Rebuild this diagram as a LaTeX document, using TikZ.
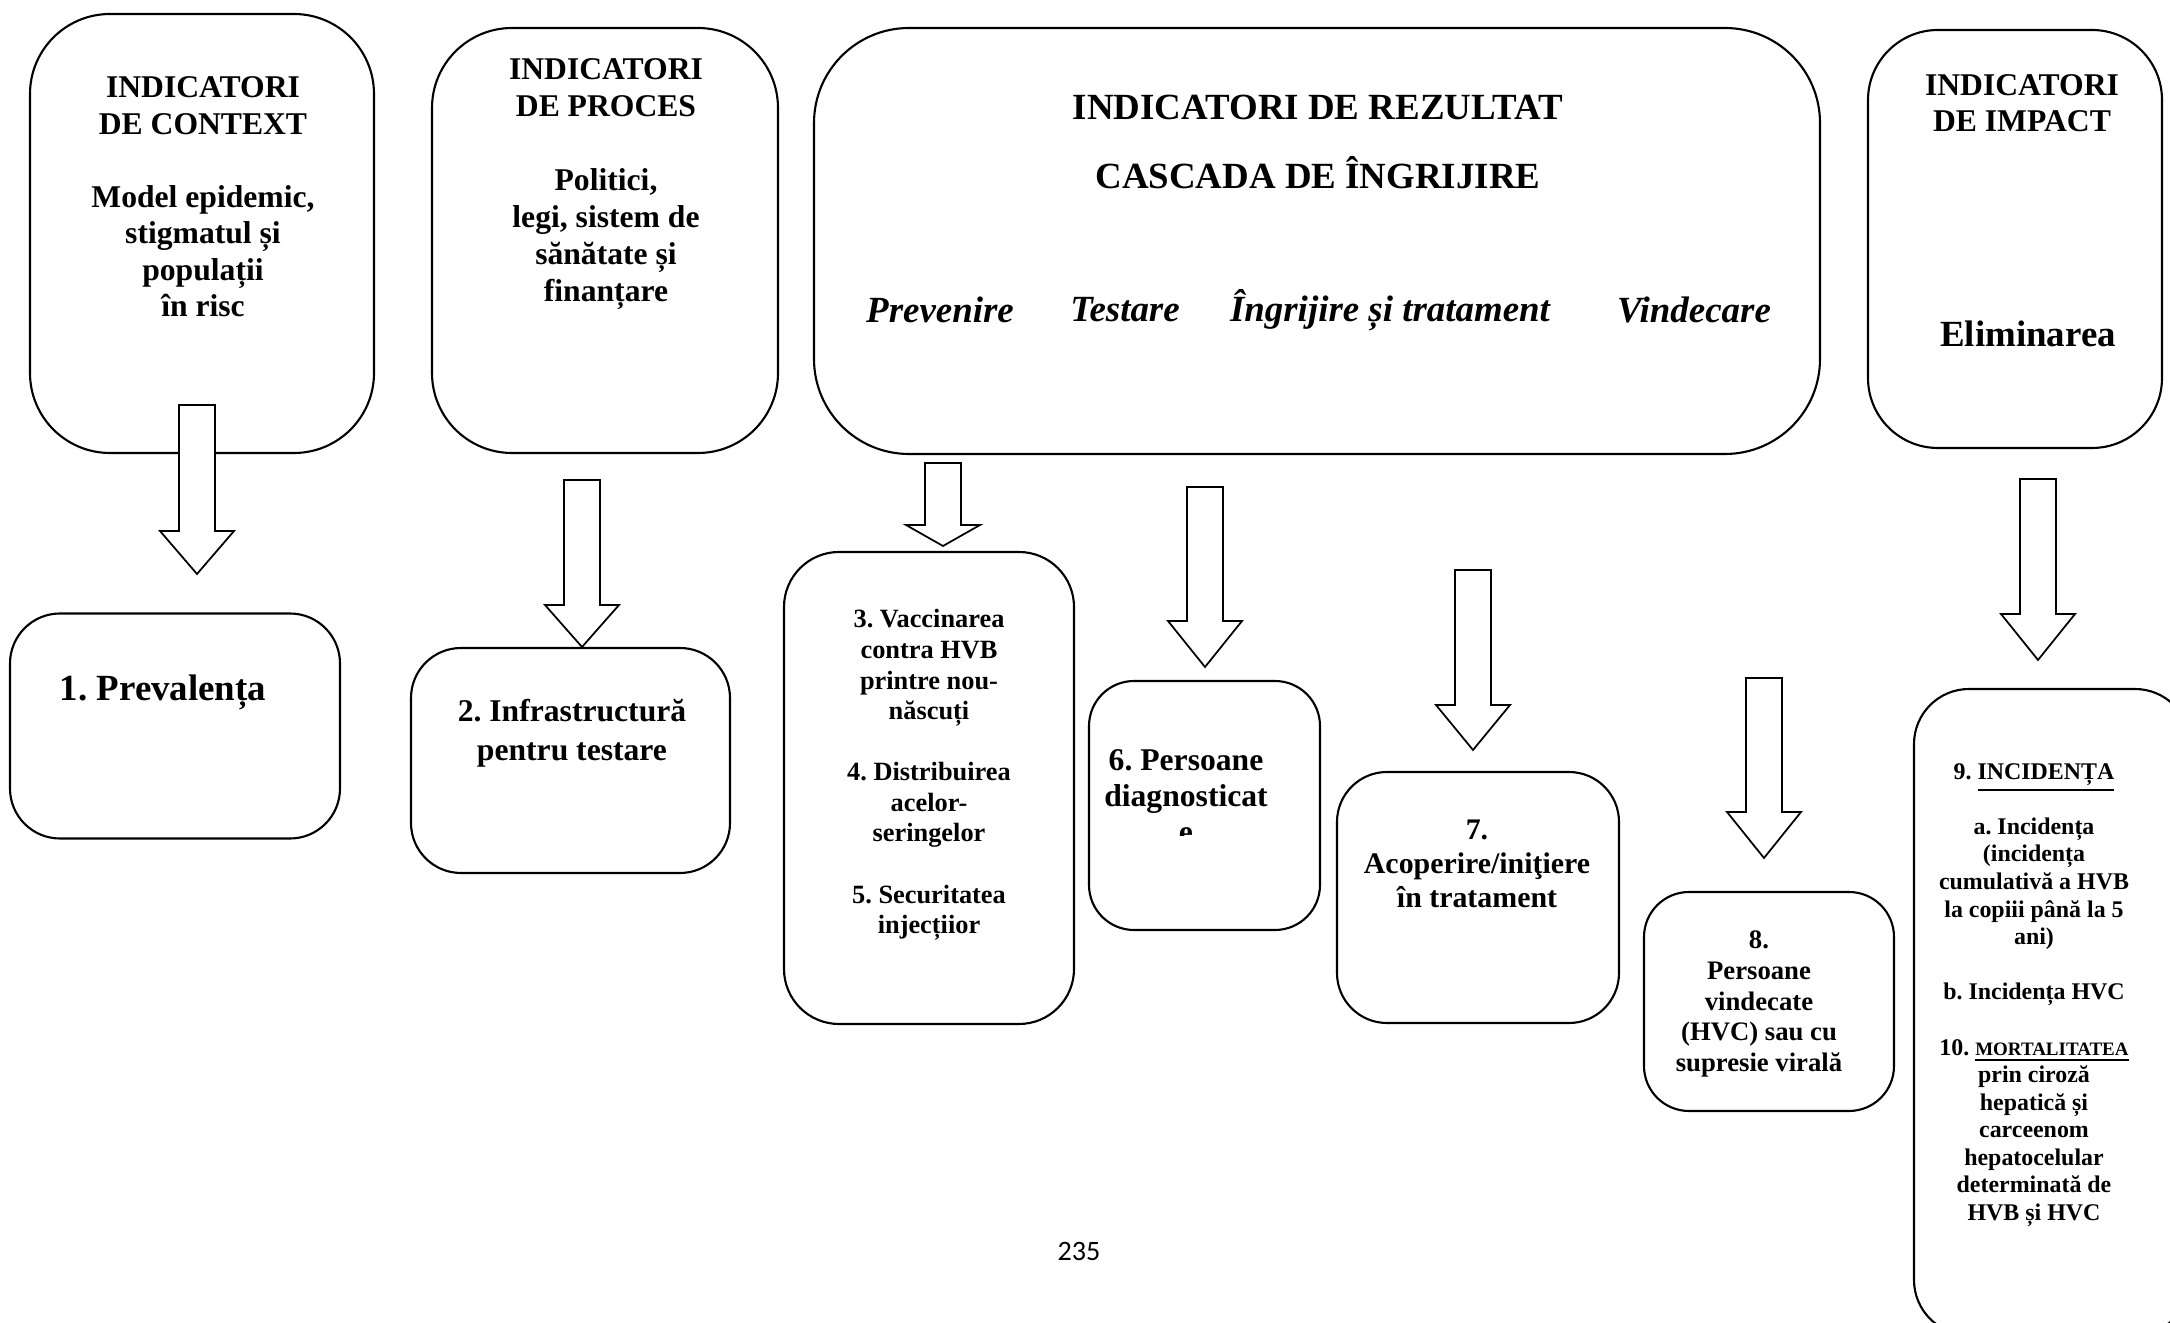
\documentclass[tikz,border=0pt]{standalone}
\usepackage{fontspec}
\setmainfont{Liberation Serif}
\newfontfamily\pagefont{Carlito}
\usepackage{tikz}
\usetikzlibrary{shapes, arrows.meta, positioning}
\tikzstyle{panel} = [draw, line width=0.6pt, rectangle, rounded corners=0.8cm, inner sep=0pt]
\tikzstyle{cell} = [draw, line width=0.6pt, rectangle, rounded corners=0.5cm, inner sep=0pt]
\tikzstyle{boxtext} = [align=center, inner sep=0pt]
\tikzstyle{arrowbody} = [draw, fill=white, line width=0.5pt, line join=miter]
\newcommand{\sz}[2]{\fontsize{#1}{#2}\selectfont}
\newcommand{\ul}[1]{\smash{\underline{#1}}}
\frenchspacing
% hollow block arrow pointing down: x, top of shaft, tip, head length
\newcommand{\downblock}[4]{%
  \draw[arrowbody] (#1-0.18,#2) -- (#1+0.18,#2) -- (#1+0.18,#3+#4)
    -- (#1+0.37,#3+#4) -- (#1,#3) -- (#1-0.37,#3+#4) -- (#1-0.18,#3+#4) -- cycle;}

\begin{document}
\begin{tikzpicture}[node distance=1cm, >=latex]
    \useasboundingbox (0,0) rectangle (21.7,-13.23);

    % upper row: the four indicator groups
    \node [panel, minimum width=3.44cm, minimum height=4.39cm] (context) at (2.02,-2.335) {};
    \node [panel, minimum width=3.46cm, minimum height=4.25cm] (process) at (6.05,-2.405) {};
    \node [panel, rounded corners=0.95cm, minimum width=10.06cm, minimum height=4.26cm] (result) at (13.17,-2.41) {};
    \node [panel, rounded corners=0.7cm, minimum width=2.94cm, minimum height=4.18cm] (impact) at (20.15,-2.39) {};

    \node [boxtext, font=\bfseries\sz{9}{10.4}] (contexttext) at (2.03,-1.97)
        {INDICATORI\\DE CONTEXT\\[10.4pt]Model epidemic,\\stigmatul și\\populații\\în risc};
    \node [boxtext, font=\bfseries\sz{9}{10.5}] (processtext) at (6.06,-1.84)
        {INDICATORI\\DE PROCES\\[10.5pt]Politici,\\legi, sistem de\\sănătate și\\finanțare};
    \node [boxtext, font=\bfseries\sz{10.5}{12}] (resulttitle) at (13.18,-1.07) {INDICATORI DE REZULTAT};
    \node [boxtext, font=\bfseries\sz{10.5}{12}] (cascade) at (13.18,-1.73) {CASCADA DE ÎNGRIJIRE};
    \node [boxtext, font=\bfseries\itshape\sz{10.5}{12}] (stprev) at (9.40,-3.10) {Prevenire};
    \node [boxtext, font=\bfseries\itshape\sz{10.5}{12}] (sttest) at (11.25,-3.10) {Testare};
    \node [boxtext, font=\bfseries\itshape\sz{10.5}{12}] (stcare) at (13.90,-3.10) {Îngrijire și tratament};
    \node [boxtext, font=\bfseries\itshape\sz{10.5}{12}] (stcure) at (16.94,-3.10) {Vindecare};
    \node [boxtext, font=\bfseries\sz{9}{10.3}] (impacttext) at (20.22,-1.03) {INDICATORI\\DE IMPACT};
    \node [boxtext, font=\bfseries\sz{10.5}{12}] (elimination) at (20.28,-3.34) {Eliminarea};

    % lower row: the numbered indicators
    \node [cell, minimum width=3.30cm, minimum height=2.25cm] (prevalence) at (1.75,-7.26) {};
    \node [cell, minimum width=3.19cm, minimum height=2.25cm] (infra) at (5.705,-7.605) {};
    \node [cell, rounded corners=0.55cm, minimum width=2.90cm, minimum height=4.72cm] (prevention) at (9.29,-7.88) {};
    \node [cell, rounded corners=0.45cm, minimum width=2.31cm, minimum height=2.49cm] (diagnosed) at (12.045,-8.055) {};
    \node [cell, minimum width=2.82cm, minimum height=2.51cm] (treatment) at (14.78,-8.975) {};
    \node [cell, rounded corners=0.45cm, minimum width=2.50cm, minimum height=2.19cm] (cured) at (17.69,-10.015) {};
    \node [cell, rounded corners=0.55cm, minimum width=2.76cm, minimum height=6.46cm] (incidence) at (20.52,-10.12) {};

    \node [boxtext, font=\bfseries\sz{10.5}{12}] (prevalencetext) at (1.63,-6.92) {1. Prevalența};
    \node [boxtext, font=\bfseries\sz{9}{11}] (infratext) at (5.72,-7.33) {2. Infrastructură\\pentru testare};
    \node [boxtext, font=\bfseries\sz{7.5}{8.7}] (preventiontext) at (9.29,-7.75)
        {3. Vaccinarea\\contra HVB\\printre nou-\\născuți\\[8.7pt]4. Distribuirea\\acelor-\\seringelor\\[8.7pt]5. Securitatea\\injecțiior};
    \begin{scope}
        \clip (10.9,-6.9) rectangle (13.2,-8.36);
        \node [boxtext, font=\bfseries\sz{9}{10.3}] (diagnosedtext) at (11.86,-7.96) {6. Persoane\\diagnosticat\\e};
    \end{scope}
    \node [boxtext, font=\bfseries\sz{8.5}{9.7}] (treatmenttext) at (14.77,-8.64) {7.\\Acoperire/iniţiere\\în tratament};
    \node [boxtext, font=\bfseries\sz{7.6}{8.8}] (curedtext) at (17.59,-10.04)
        {8.\\Persoane\\vindecate\\(HVC) sau cu\\supresie virală};
    \node [boxtext, font=\bfseries\sz{6.8}{7.85}] (incidencetext) at (20.34,-9.95)
        {9. \ul{INCIDENȚA}\\[7.85pt]a. Incidența\\(incidența\\cumulativă a HVB\\la copiii până la 5\\ani)\\[7.85pt]b. Incidența HVC\\[7.85pt]10. \ul{\sz{5.4}{7.85}MORTALITATEA}\\prin ciroză\\hepatică și\\carceenom\\hepatocelular\\determinată de\\HVB și HVC};

    % block arrows from each group down to its indicators
    \downblock{1.97}{-4.05}{-5.74}{0.43}
    \downblock{5.82}{-4.80}{-6.47}{0.42}
    \downblock{9.43}{-4.63}{-5.46}{0.21}
    \downblock{12.05}{-4.87}{-6.67}{0.46}
    \downblock{14.73}{-5.70}{-7.50}{0.45}
    \downblock{17.64}{-6.78}{-8.58}{0.46}
    \downblock{20.38}{-4.79}{-6.60}{0.46}

    \node [font=\pagefont\sz{8}{10}] (pagenum) at (10.79,-12.51) {235};
\end{tikzpicture}
\end{document}
